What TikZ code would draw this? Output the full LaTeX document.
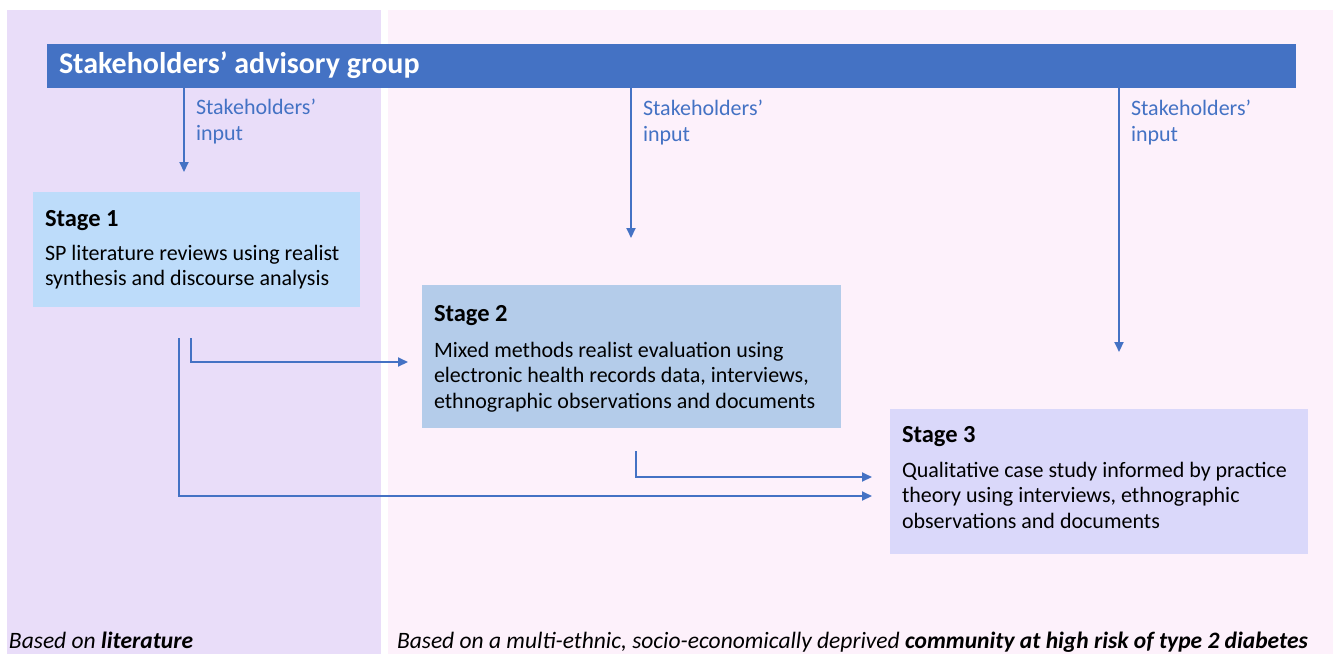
\documentclass[tikz,border=0pt]{standalone}
\usepackage{fontspec}
\setmainfont{Carlito}
\usetikzlibrary{arrows.meta}

\definecolor{litpanel}{HTML}{E9DDF9}
\definecolor{companel}{HTML}{FDF1FB}
\definecolor{sagblue}{HTML}{4472C4}
\definecolor{stageone}{HTML}{BDDCFA}
\definecolor{stagetwo}{HTML}{B4CCEA}
\definecolor{stagethree}{HTML}{DAD8FA}

\newcommand{\twolines}[3]{\parbox[t]{#1}{\raggedright #2\\#3}}
\newcommand{\threelines}[4]{\parbox[t]{#1}{\raggedright #2\\#3\\#4}}

\begin{document}
\begin{tikzpicture}[x=1pt,y=-1pt,
  every node/.style={inner sep=0pt, outer sep=0pt},
  box/.style={anchor=north west, draw=none},
  title/.style={anchor=base west, font=\bfseries\fontsize{24.5}{29}\selectfont},
  body/.style={anchor=base west, font=\fontsize{22}{25.5}\selectfont},
  inputlabel/.style={anchor=base west, text=sagblue, font=\fontsize{22}{26.5}\selectfont},
  footnote/.style={anchor=base west, font=\itshape\fontsize{23.5}{27}\selectfont},
  arr/.style={draw=sagblue, line width=2pt, -{Triangle[length=10pt,width=9pt]}}
]
\useasboundingbox[fill=white] (0,0) rectangle (1333,654);

% background panels
\fill[litpanel] (7,10) rectangle (381,654);
\fill[companel] (388,10) rectangle (1333,654);

% advisory group banner
\node[box, fill=sagblue, minimum width=1249pt, minimum height=44pt] (sag) at (47,44) {};
\node[anchor=base west, text=white, font=\bfseries\fontsize{30}{36}\selectfont] (sagtext) at (59,73) {Stakeholders’ advisory group};

% stage boxes
\node[box, fill=stageone, minimum width=327pt, minimum height=115pt] (stage1) at (33,192) {};
\node[box, fill=stagetwo, minimum width=419pt, minimum height=143pt] (stage2) at (422,285) {};
\node[box, fill=stagethree, minimum width=418pt, minimum height=145pt] (stage3) at (890,409) {};

\node[title] (s1title) at (45,226) {Stage 1};
\node[body] (s1body) at (45,260) {\twolines{310pt}{SP literature reviews using realist}{synthesis and discourse analysis}};

\node[title] (s2title) at (434,321) {Stage 2};
\node[body] (s2body) at (434,357) {\threelines{400pt}{Mixed methods realist evaluation using}{electronic health records data, interviews,}{ethnographic observations and documents}};

\node[title] (s3title) at (902,442) {Stage 3};
\node[body] (s3body) at (902,477) {\threelines{400pt}{Qualitative case study informed by practice}{theory using interviews, ethnographic}{observations and documents}};

% stakeholders' input arrows
\coordinate (in1) at (184,172);
\coordinate (in2) at (631,238);
\coordinate (in3) at (1119,352);
\draw[arr] (in1 |- sag.south) -- (in1);
\draw[arr] (in2 |- sag.south) -- (in2);
\draw[arr] (in3 |- sag.south) -- (in3);
\node[inputlabel] (lab1) at (196,114) {\twolines{150pt}{Stakeholders’}{input}};
\node[inputlabel] (lab2) at (643,115) {\twolines{150pt}{Stakeholders’}{input}};
\node[inputlabel] (lab3) at (1131,115) {\twolines{150pt}{Stakeholders’}{input}};

% flow between stages
\coordinate (f1a) at (191,338);
\coordinate (f1b) at (408,362);
\coordinate (f2a) at (179,338);
\coordinate (f2b) at (872,496);
\coordinate (f3a) at (636,451);
\coordinate (f3b) at (872,477);
\draw[arr] (f1a) |- (f1b);
\draw[arr] (f2a) |- (f2b);
\draw[arr] (f3a) |- (f3b);

% panel captions
\node[footnote] (litcap) at (9,648) {Based on \textbf{literature}};
\node[footnote] (comcap) at (397,648) {Based on a multi-ethnic, socio-economically deprived \textbf{community at high risk of type 2 diabetes}};
\end{tikzpicture}
\end{document}
